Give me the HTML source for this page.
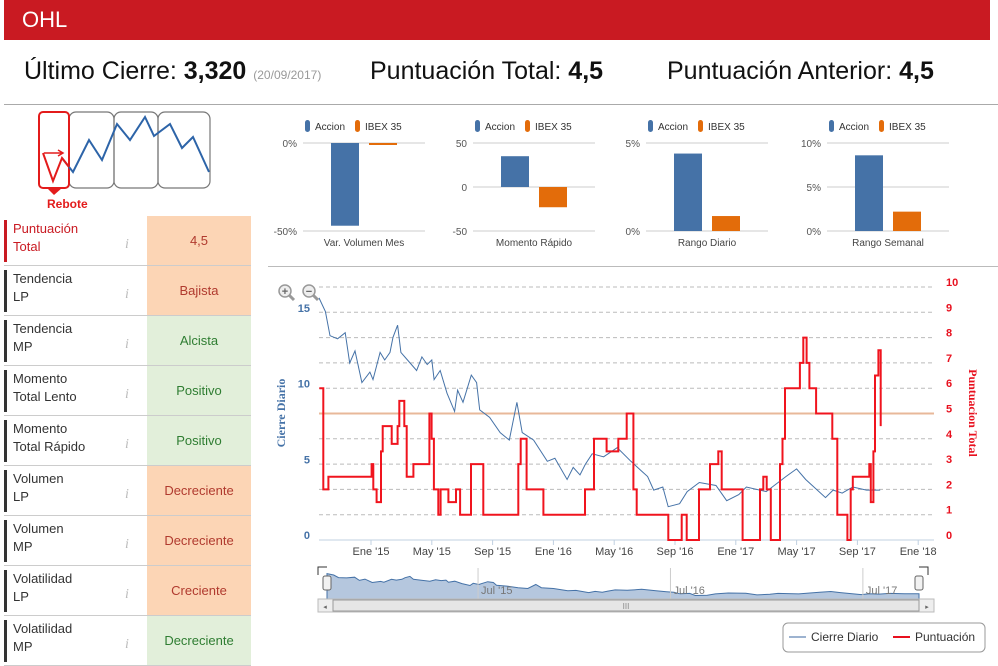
<!DOCTYPE html>
<html><head><meta charset="utf-8"><style>
*{margin:0;padding:0;box-sizing:border-box}
body{width:998px;height:666px;overflow:hidden;background:#fff;font-family:"Liberation Sans",sans-serif;position:relative}
.abs{position:absolute}
#hdr{left:4px;top:0;width:986px;height:40px;background:#c91a22;color:#fff;font-size:22px;line-height:40px;padding-left:18px}
.kpi{top:57px;font-size:25px;color:#111;white-space:nowrap}
.kpi b{font-weight:bold}
.row{left:4px;width:247px;height:50px;border-bottom:1px solid #ccc}
.lab{position:absolute;left:0;top:4px;width:143px;height:42px;border-left:3px solid #333;padding-left:6px;font-size:13px;line-height:18px;color:#333}
.info{position:absolute;left:118px;top:16px;color:#bbb;font-style:italic;font-size:14px;font-family:"Liberation Serif",serif}
.val{position:absolute;left:143px;top:0;width:104px;height:49px;font-size:13px;line-height:49px;text-align:center}
.pe{background:#fcd5b5;color:#b03a2e}.gr{background:#e2efda;color:#2f7d32}
</style></head><body>
<div id="hdr" class="abs">OHL</div>
<div class="abs kpi" style="left:24px">Último Cierre: <b>3,320</b> <span style="font-size:12px;color:#999">(20/09/2017)</span></div>
<div class="abs kpi" style="left:370px">Puntuación Total: <b>4,5</b></div>
<div class="abs kpi" style="left:667px">Puntuación Anterior: <b>4,5</b></div>
<div class="abs" style="left:4px;top:104px;width:994px;height:1px;background:#aaa"></div>
<div class="abs" style="left:268px;top:266px;width:730px;height:1px;background:#bbb"></div>

<svg class="abs" style="left:0;top:105px" width="260" height="110">
<g fill="none" stroke="#777" stroke-width="1.2">
<rect x="69" y="7" width="45" height="76" rx="7"/><rect x="114" y="7" width="44" height="76" rx="7"/><rect x="158" y="7" width="52" height="76" rx="7"/></g>
<path d="M43,7 h22 a4,4 0 0 1 4,4 v68 a4,4 0 0 1 -4,4 h-22 a4,4 0 0 1 -4,-4 v-68 a4,4 0 0 1 4,-4z" fill="none" stroke="#e31b1b" stroke-width="2"/>
<path d="M47,83 L62,83 L54,90z" fill="#e31b1b"/>
<polyline points="62,53 73,67 89,35 102,55 117,19 130,35 145,12 154,31 170,19 182,43 193,32 209,67" fill="none" stroke="#2d64a8" stroke-width="2"/>
<polyline points="43,48 53,76 62,53 69,62" fill="none" stroke="#e31b1b" stroke-width="2"/>
<path d="M44,48 H62 M58,45 L63,48 L58,51" fill="none" stroke="#e31b1b" stroke-width="1.5"/>
<text x="47" y="103" font-size="12" font-weight="bold" fill="#e31b1b">Rebote</text>
</svg>

<div id="rows"></div>

<svg class="abs" style="left:0;top:0" width="998" height="666" id="mini"></svg>
<svg class="abs" style="left:0;top:0" width="998" height="666" id="main"></svg>

<script>
const rowLabels=["Puntuación<br>Total","Tendencia<br>LP","Tendencia<br>MP","Momento<br>Total Lento","Momento<br>Total Rápido","Volumen<br>LP","Volumen<br>MP","Volatilidad<br>LP","Volatilidad<br>MP"];
const rowValues=["4,5","Bajista","Alcista","Positivo","Positivo","Decreciente","Decreciente","Creciente","Decreciente"];
const rowClass=["pe","pe","gr","gr","gr","pe","pe","pe","gr"];
const rc=document.getElementById('rows');
rowLabels.forEach((l,i)=>{
 const d=document.createElement('div');d.className='abs row';d.style.top=(216+i*50)+'px';
 
 
 d.innerHTML='<div class="lab"'+(i==0?' style="border-color:#c91a22;color:#c91a22"':'')+'>'+l+'<span class="info">i</span></div><div class="val '+rowClass[i]+'">'+rowValues[i]+'</div>';
 rc.appendChild(d);
});
const NS='http://www.w3.org/2000/svg';
function el(p,t,a,txt){const e=document.createElementNS(NS,t);for(const k in a)e.setAttribute(k,a[k]);if(txt!=null)e.textContent=txt;p.appendChild(e);return e;}

const miniTitles=["Var. Volumen Mes","Momento Rápido","Rango Diario","Rango Semanal"];
const miniAccion=[-47,35,4.4,8.6];
const miniIbex=[-1,-23,0.85,2.2];
const miniMin=[-50,-50,0,0];
const miniMax=[0,50,5,10];
const miniTicks=[["0%","-50%"],["50","0","-50"],["5%","0%"],["10%","5%","0%"]];
const miniX=[303,473,646,827];
const mini=document.getElementById('mini');
miniTitles.forEach((t,i)=>{
 const x0=miniX[i],w=122,top=143,bot=231;
 const y=v=>top+(miniMax[i]-v)/(miniMax[i]-miniMin[i])*(bot-top);
 const tk=miniTicks[i];
 tk.forEach((s,j)=>{const v=miniMax[i]-j*(miniMax[i]-miniMin[i])/(tk.length-1);
  el(mini,'line',{x1:x0,x2:x0+w,y1:y(v),y2:y(v),stroke:'#ccc'});
  el(mini,'text',{x:x0-6,y:y(v)+4,'font-size':10,fill:'#555','text-anchor':'end'},s);});
 const z=y(Math.max(miniMin[i],Math.min(0,miniMax[i])));
 const ba=el(mini,'rect',{x:x0+28,width:28,y:Math.min(y(miniAccion[i]),z),height:Math.max(1,Math.abs(y(miniAccion[i])-z)),fill:'#4572a7'});
 
 
 const bi=el(mini,'rect',{x:x0+66,width:28,y:Math.min(y(miniIbex[i]),z),height:Math.max(2,Math.abs(y(miniIbex[i])-z)),fill:'#e36c0a'});
 
 
 el(mini,'text',{x:x0+61,y:246,'font-size':10,fill:'#444','text-anchor':'middle'},t);
 const lx=x0+2;
 el(mini,'rect',{x:lx,y:120,width:5,height:12,rx:2.5,fill:'#4572a7'});
 el(mini,'text',{x:lx+10,y:130,'font-size':10,fill:'#333'},'Accion');
 el(mini,'rect',{x:lx+50,y:120,width:5,height:12,rx:2.5,fill:'#e36c0a'});
 el(mini,'text',{x:lx+60,y:130,'font-size':10,fill:'#333'},'IBEX 35');
});

const xTickLabels=["Ene '15","May '15","Sep '15","Ene '16","May '16","Sep '16","Ene '17","May '17","Sep '17","Ene '18"];
const xTickMonths=[0,4,8,12,16,20,24,28,32,36];
const leftTicks=[0,5,10,15];
const rightTicks=[0,1,2,3,4,5,6,7,8,9,10];
const priceMonths=[-3.42,-3.0,-2.7,-2.2,-1.7,-1.4,-1.05,-0.6,-0.07,0.13,0.6,0.9,1.25,1.45,1.75,1.97,2.4,3.0,3.35,3.7,4.0,4.15,4.55,5.0,5.5,5.7,6.05,6.6,6.95,7.15,7.8,8.5,9.1,9.6,9.95,10.7,11.6,12.1,12.9,13.3,13.75,14.1,14.55,15.3,16.2,17.1,17.75,18.2,18.6,19.2,19.55,20.3,20.8,21.6,22.7,23.4,24.2,24.7,26.0,27.3,28.0,28.6,29.9,30.4,31.0,31.7,32.6,33.5];
const priceValues=[16.0,15.1,13.5,13.3,13.7,11.7,12.5,10.4,11.1,10.6,12.4,11.9,12.4,13.4,14.2,12.4,11.9,11.2,12.1,11.6,11.9,10.6,11.2,9.7,8.5,9.9,9.1,10.9,10.4,8.6,8.1,7.1,6.6,9.1,7.1,6.6,5.2,5.4,4.0,4.8,4.3,5.0,5.7,5.5,6.1,5.2,4.6,4.2,3.3,3.5,2.2,2.4,3.2,3.8,3.6,2.6,3.0,3.5,3.2,4.2,4.7,4.0,2.8,3.3,3.1,3.5,3.3,3.3];
const scoreMonths=[-3.4,-3.14,-2.8,0.04,0.15,0.37,0.66,0.77,1.36,1.75,1.86,2.19,2.35,2.79,3.84,3.99,4.14,4.43,4.58,5.09,5.59,5.86,6.58,7.39,9.69,9.85,10.24,11.34,11.56,14.08,14.67,15.5,16.27,16.82,17.26,17.48,19.56,20.44,20.77,21.58,22.3,22.85,23.07,24.45,25.59,25.81,26.03,26.3,26.91,27.07,27.24,28.22,28.44,28.66,28.84,29.28,30.35,30.68,31.34,31.56,31.7,32.78,32.88,33.05,33.16,33.38,33.53];
const scoreValues=[6,2,2.5,3,2,1.5,3.5,4.5,3.8,4.5,5.5,4.5,2.5,3,5,4,2,1,2,1.5,2,1,3,1,3,4,2,1,1,2,4,3.5,4,5,2,1,0,1,0,2,3,3.5,2,0,2,2.5,2,0,3,4,6,7,8,7,6,5,4,1,0,2,2.5,3,1.5,3.5,6.5,7.5,4.5];
const scoreThreshold=5;
const navLabels=["Jul '15","Jul '16","Jul '17"];
const navMonths=[6,18,30];

const main=document.getElementById('main');
const X=m=>371+m*15.2;
const YL=v=>540-v*15.13;
const YR=v=>540-v*25.3;
const PL=319,PR=934;
rightTicks.forEach(v=>{ if(v>0) el(main,'line',{x1:PL,x2:PR,y1:YR(v),y2:YR(v),stroke:'#bbb','stroke-dasharray':'4,3'});
 el(main,'text',{x:946,y:YR(v)-1,'font-size':11,'font-weight':'bold',fill:'#e8101e'},v);});
el(main,'line',{x1:PL,x2:PR,y1:540,y2:540,stroke:'#c0d0e0'});
leftTicks.forEach(v=>el(main,'text',{x:310,y:YL(v)-1,'font-size':11,'font-weight':'bold',fill:'#4572a7','text-anchor':'end'},v));
xTickLabels.forEach((t,i)=>{const x=X(xTickMonths[i]);
 el(main,'line',{x1:x,x2:x,y1:540,y2:545,stroke:'#c0d0e0'});
 el(main,'text',{x:x,y:555,'font-size':11,fill:'#444','text-anchor':'middle'},t);});
el(main,'text',{x:0,y:0,transform:'translate(285,413) rotate(-90)','font-size':12,'font-weight':'bold',fill:'#4572a7','text-anchor':'middle','font-family':'Liberation Serif, serif'},'Cierre Diario');
el(main,'text',{x:0,y:0,transform:'translate(969,413) rotate(90)','font-size':12,'font-weight':'bold',fill:'#e8101e','text-anchor':'middle','font-family':'Liberation Serif, serif'},'Puntuacion Total');
const th=el(main,'line',{x1:PL,x2:PR,y1:YR(scoreThreshold),y2:YR(scoreThreshold),stroke:'#e8b89a','stroke-width':2});


let pp=priceMonths.map((m,i)=>X(m).toFixed(1)+','+YL(priceValues[i]).toFixed(1)).join(' ');
const pl=el(main,'polyline',{points:pp,fill:'none',stroke:'#4572a7','stroke-width':1});


let sp='';scoreMonths.forEach((m,i)=>{const x=X(m).toFixed(1),y=YR(scoreValues[i]).toFixed(1);
 if(i==0)sp+='M'+x+','+y;else sp+=' V'+y;
 const nx=i<scoreMonths.length-1?X(scoreMonths[i+1]).toFixed(1):x; sp+=' H'+nx;});
const sl=el(main,'path',{d:sp,fill:'none',stroke:'#f0141e','stroke-width':2});


[[285,'+'],[309,'−']].forEach(([cx,s])=>{
 const g=el(main,'g',{});
 
 
 el(g,'line',{x1:cx+4,y1:295,x2:cx+9,y2:300,stroke:'#999','stroke-width':3});
 el(g,'circle',{cx:cx,cy:291,r:6,fill:'#eee',stroke:'#999','stroke-width':1.5});
 el(g,'text',{x:cx,y:295,'font-size':11,'font-weight':'bold',fill:'#666','text-anchor':'middle'},s);});
const NL=327,NR=919,NT=572,NB=599;
const XN=m=>NL+(m-priceMonths[0])/(priceMonths[priceMonths.length-1]-priceMonths[0])*(NR-NL);
const YN=v=>NB-v/17*(NB-NT);
let ap='M'+XN(priceMonths[0])+','+NB;priceMonths.forEach((m,i)=>ap+=' L'+XN(m).toFixed(1)+','+YN(priceValues[i]).toFixed(1));ap+=' L'+NR+','+NB+'Z';
const na=el(main,'path',{d:ap,fill:'#b5c7de',stroke:'#4572a7','stroke-width':1});


navLabels.forEach((t,i)=>{const x=XN(navMonths[i]);
 el(main,'line',{x1:x,x2:x,y1:NT-4,y2:NB,stroke:'#ccc'});
 el(main,'text',{x:x+3,y:594,'font-size':11,fill:'#777'},t);});
el(main,'path',{d:'M318,575 V567 H327 M919,567 H928 V575',fill:'none',stroke:'#333'});
[327,919].forEach(x=>{const h=el(main,'rect',{x:x-4,y:576,width:8,height:14,rx:2,fill:'#f2f2f2',stroke:'#666'});
 
 });
const sb=el(main,'rect',{x:318,y:599,width:616,height:13,fill:'#eee',stroke:'#bbb'});


el(main,'rect',{x:333,y:600,width:586,height:11,fill:'#e6e6e6',stroke:'#999'});
el(main,'text',{x:626,y:609,'font-size':8,fill:'#888','text-anchor':'middle'},'III');
el(main,'text',{x:325,y:609,'font-size':7,fill:'#666','text-anchor':'middle'},'◂');
el(main,'text',{x:927,y:609,'font-size':7,fill:'#666','text-anchor':'middle'},'▸');
const lg=el(main,'g',{});


el(lg,'rect',{x:783,y:623,width:202,height:29,rx:5,fill:'#fff',stroke:'#999'});
el(lg,'line',{x1:789,x2:806,y1:637,y2:637,stroke:'#9db3d0','stroke-width':2});
el(lg,'text',{x:811,y:641,'font-size':12,fill:'#333'},'Cierre Diario');
el(lg,'line',{x1:893,x2:910,y1:637,y2:637,stroke:'#e8101e','stroke-width':2});
el(lg,'text',{x:915,y:641,'font-size':12,fill:'#333'},'Puntuación');
</script>
</body></html>
